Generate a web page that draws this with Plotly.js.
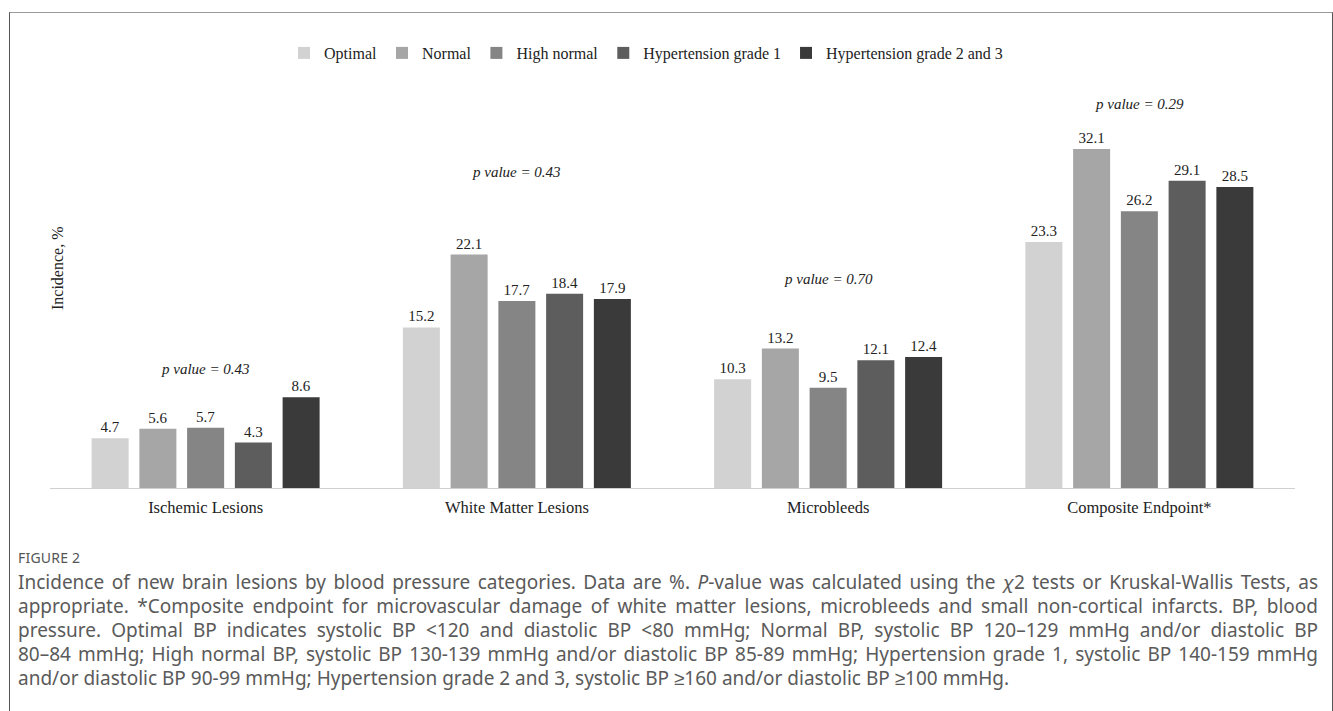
<!DOCTYPE html>
<html>
<head>
<meta charset="utf-8">
<script src="https://cdn.plot.ly/plotly-3.0.1.min.js"></script>
<style>
  html, body { margin: 0; padding: 0; background: #ffffff; width: 1333px; height: 711px; overflow: hidden; }
  #chart { position: absolute; left: 0; top: 0; width: 1333px; height: 711px; }
  #frame { position: absolute; left: 9px; top: 12px; width: 1322px; height: 760px;
           border-top: 1px solid #9a9a9a; border-left: 1px solid #555; border-right: 1px solid #555;
           pointer-events: none; }
  #figlabel { position: absolute; left: 18px; top: 548px; height: 20px; line-height: 20px;
              font-family: "Noto Sans", sans-serif; font-size: 14px; color: #555; letter-spacing: 0.2px; }
  #caption { position: absolute; left: 18px; top: 570px; width: 1300px;
             font-family: "Noto Sans", sans-serif; font-size: 19px; color: #5a5a5a; }
  #caption .ln { height: 24px; line-height: 24px; white-space: nowrap; text-align: justify; text-align-last: justify; }
  #caption .ln.last { text-align: left; text-align-last: left; }
</style>
</head>
<body>
<div id="chart"></div>
<div id="frame"></div>
<div id="figlabel">FIGURE 2</div>
<div id="caption">
  <div class="ln">Incidence of new brain lesions by blood pressure categories. Data are %. <i>P</i>-value was calculated using the <i>χ</i>2 tests or Kruskal-Wallis Tests, as</div>
  <div class="ln">appropriate. *Composite endpoint for microvascular damage of white matter lesions, microbleeds and small non-cortical infarcts. BP, blood</div>
  <div class="ln">pressure. Optimal BP indicates systolic BP &lt;120 and diastolic BP &lt;80 mmHg; Normal BP, systolic BP 120–129 mmHg and/or diastolic BP</div>
  <div class="ln">80–84 mmHg; High normal BP, systolic BP 130-139 mmHg and/or diastolic BP 85-89 mmHg; Hypertension grade 1, systolic BP 140-159 mmHg</div>
  <div class="ln last">and/or diastolic BP 90-99 mmHg; Hypertension grade 2 and 3, systolic BP ≥160 and/or diastolic BP ≥100 mmHg.</div>
</div>
<script>
// ---- data ----
const categories = ["Ischemic Lesions", "White Matter Lesions", "Microbleeds", "Composite Endpoint*"];
const seriesNames = ["Optimal", "Normal", "High normal", "Hypertension grade 1", "Hypertension grade 2 and 3"];
const optimal = [4.7, 15.2, 10.3, 23.3];
const normal = [5.6, 22.1, 13.2, 32.1];
const highNormal = [5.7, 17.7, 9.5, 26.2];
const hypertension1 = [4.3, 18.4, 12.1, 29.1];
const hypertension23 = [8.6, 17.9, 12.4, 28.5];
const pValueLabels = ["p value = 0.43", "p value = 0.43", "p value = 0.70", "p value = 0.29"];
const pValueHeights = [11.3, 29.9, 19.8, 36.4];
const yAxisTitle = "Incidence, %";

// ---- styles ----
const colors = ["#d2d2d2", "#a6a6a6", "#858585", "#5d5d5d", "#3a3a3a"];
const serif = "Liberation Serif, Times New Roman, serif";
const allSeries = [optimal, normal, highNormal, hypertension1, hypertension23];

const traces = allSeries.map((vals, i) => ({
  type: "bar",
  name: seriesNames[i],
  x: categories,
  y: vals,
  marker: { color: colors[i], line: { width: 0 } },
  text: vals.map(v => v.toFixed(1)),
  textposition: "outside",
  textfont: { family: serif, size: 15, color: "#222" },
  cliponaxis: false,
  hoverinfo: "x+y+name"
}));

const annotations = categories.map((c, i) => ({
  x: c, y: pValueHeights[i], xref: "x", yref: "y",
  text: "<i>" + pValueLabels[i] + "</i>",
  showarrow: false,
  font: { family: serif, size: 15, color: "#222" }
}));
annotations.push({
  x: (57 - 50) / 1245, y: 0.5, xref: "paper", yref: "paper",
  xanchor: "center", yanchor: "middle",
  text: yAxisTitle, textangle: -90, showarrow: false,
  font: { family: serif, size: 16, color: "#222" }
});

const layout = {
  width: 1333, height: 711,
  margin: { l: 50, r: 38, t: 48, b: 223, pad: 0 },
  paper_bgcolor: "rgba(0,0,0,0)",
  plot_bgcolor: "rgba(0,0,0,0)",
  barmode: "group",
  bargap: 0.233,
  bargroupgap: 0.225,
  showlegend: true,
  legend: {
    orientation: "h", x: (646 - 50) / 1245, xanchor: "center", y: (488 - 53) / 440, yanchor: "middle",
    font: { family: serif, size: 16, color: "#222" }, bgcolor: "rgba(0,0,0,0)"
  },
  xaxis: {
    type: "category",
    showline: true, linecolor: "#d0d0d0", linewidth: 1,
    ticks: "outside", ticklen: 4, tickcolor: "rgba(0,0,0,0)",
    showgrid: false, zeroline: false,
    tickfont: { family: serif, size: 16.5, color: "#222" }
  },
  yaxis: {
    range: [0, 440 / 10.56],
    showticklabels: false, showgrid: false, zeroline: false, showline: false, ticks: ""
  },
  annotations: annotations
};

Plotly.newPlot("chart", traces, layout, { displayModeBar: false, staticPlot: true });
</script>
</body>
</html>
